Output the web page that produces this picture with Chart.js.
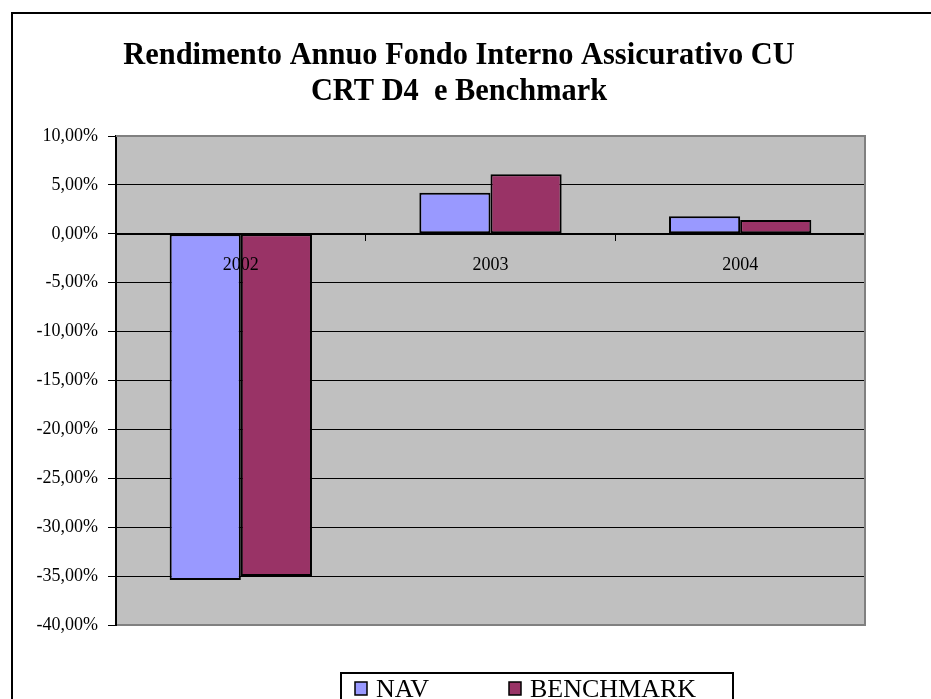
<!DOCTYPE html>
<html>
<head>
<meta charset="utf-8">
<script src="https://cdn.jsdelivr.net/npm/chart.js@4.4.1/dist/chart.umd.min.js"></script>
<style>
html, body { margin: 0; padding: 0; background: #fff; overflow: hidden; }
canvas { display: block; }
</style>
</head>
<body>
<canvas id="chartCanvas" width="931" height="720"></canvas>
<script>
var years = ['2002', '2003', '2004'];
var navValues = [-35.4, 4.2, 1.8];
var benchmarkValues = [-35.0, 6.1, 1.4];
var titleLines = ['Rendimento Annuo Fondo Interno Assicurativo CU', 'CRT D4  e Benchmark'];
var yMin = -40, yMax = 10, yStep = 5;

var serif = "'Liberation Serif', 'Times New Roman', serif";
Chart.defaults.color = '#000';

// grey plot area, Excel style frame, title and the boxed legend at the bottom
var excelLook = {
  id: 'excelLook',
  beforeDraw: function(chart) {
    var a = chart.chartArea, ctx = chart.ctx;
    ctx.save();
    ctx.fillStyle = '#c0c0c0';
    ctx.fillRect(a.left, a.top, a.right - a.left, a.bottom - a.top);
    ctx.restore();
  },
  afterDraw: function(chart) {
    var a = chart.chartArea, ctx = chart.ctx;
    ctx.save();
    ctx.strokeStyle = '#808080';
    ctx.lineWidth = 2;
    ctx.beginPath();
    ctx.moveTo(a.left, a.top);
    ctx.lineTo(a.right, a.top);
    ctx.lineTo(a.right, a.bottom);
    ctx.lineTo(a.left + 1, a.bottom);
    ctx.stroke();

    // outer frame (right and bottom sides fall outside the picture)
    ctx.strokeStyle = '#000';
    ctx.beginPath();
    ctx.moveTo(12, chart.height);
    ctx.lineTo(12, 13);
    ctx.lineTo(chart.width, 13);
    ctx.stroke();

    // title, a little narrower than plain Times like the original
    ctx.fillStyle = '#000';
    ctx.font = 'bold 32px ' + serif;
    ctx.textAlign = 'center';
    ctx.textBaseline = 'alphabetic';
    titleLines.forEach(function(line, i) {
      ctx.save();
      ctx.translate(459, 64 + i * 36);
      ctx.scale(0.95, 1);
      ctx.fillText(line, 0, 0);
      ctx.restore();
    });

    // legend
    ctx.textAlign = 'left';
    ctx.strokeRect(341, 673, 392, 60);
    ctx.font = '26px ' + serif;
    chart.data.datasets.forEach(function(ds, i) {
      var x = 355 + i * 154;
      ctx.fillStyle = ds.backgroundColor;
      ctx.fillRect(x, 682, 12, 13);
      ctx.lineWidth = 1.5;
      ctx.strokeStyle = '#000';
      ctx.strokeRect(x, 682, 12, 13);
      ctx.fillStyle = '#000';
      ctx.fillText(ds.label, x + 21, 697);
    });
    ctx.restore();
  }
};

var ctx = document.getElementById('chartCanvas').getContext('2d');
var chart = new Chart(ctx, {
  type: 'bar',
  data: {
    labels: years,
    datasets: [{
      label: 'NAV',
      data: navValues,
      backgroundColor: '#9999ff',
      borderColor: '#000',
      borderWidth: 2,
      borderSkipped: false,
      categoryPercentage: 0.57,
      barPercentage: 1
    },
    {
      label: 'BENCHMARK',
      data: benchmarkValues,
      backgroundColor: '#993366',
      borderColor: '#000',
      borderWidth: 2,
      borderSkipped: false,
      categoryPercentage: 0.57,
      barPercentage: 1
    }]
  },
  options: {
    responsive: false,
    animation: false,
    layout: { padding: { left: 0, right: 66, top: 136, bottom: 95 } },
    plugins: {
      legend: { display: false },
      tooltip: { enabled: false },
      title: { display: false }
    },
    scales: {
      x: {
        position: { y: 0 },
        grid: { drawOnChartArea: false, color: '#000', tickLength: 6, z: 1 },
        border: { color: '#000', width: 2, z: 1 },
        ticks: { z: 1, color: '#000', font: { family: serif, size: 18 }, padding: 15, maxRotation: 0, autoSkip: false },
        afterFit: function(scale) { scale.height = 0; }
      },
      y: {
        min: yMin,
        max: yMax,
        grid: { color: '#000', tickLength: 8 },
        border: { color: '#000', width: 2 },
        ticks: {
          stepSize: yStep,
          color: '#000',
          font: { family: serif, size: 18 },
          padding: 10,
          callback: function(v) { return v.toFixed(2).replace('.', ',') + '%'; }
        },
        afterFit: function(scale) { scale.width = 116; }
      }
    }
  },
  plugins: [excelLook]
});
</script>
</body>
</html>
